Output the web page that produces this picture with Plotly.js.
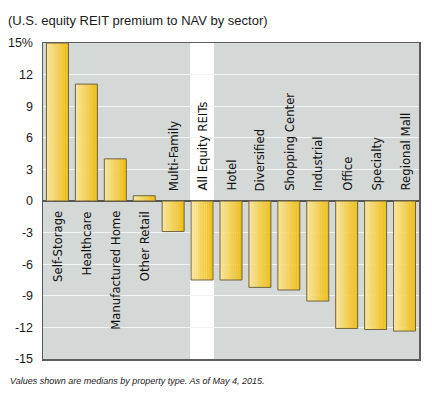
<!DOCTYPE html>
<html>
<head>
<meta charset="utf-8">
<script src="https://cdn.plot.ly/plotly-3.0.1.min.js"></script>
<style>
  html, body { margin: 0; padding: 0; background: #ffffff; }
  #chart { width: 432px; height: 399px; }
</style>
</head>
<body>
<div id="chart"></div>
<script>
// ---- data ----
const categories = ["Self-Storage", "Healthcare", "Manufactured Home", "Other Retail", "Multi-Family",
  "All Equity REITs", "Hotel", "Diversified", "Shopping Center", "Industrial", "Office", "Specialty", "Regional Mall"];
const premiumPct = [15.0, 11.1, 4.0, 0.5, -2.9, -7.5, -7.5, -8.2, -8.45, -9.5, -12.1, -12.2, -12.35];
const highlightCategory = "All Equity REITs";
const yTickVals = [-15, -12, -9, -6, -3, 0, 3, 6, 9, 12, 15];
const yTickText = ["-15", "-12", "-9", "-6", "-3", "0", "3", "6", "9", "12", "15%"];
const titleText = "(U.S. equity REIT premium to NAV by sector)";
const noteText = "Values shown are medians by property type. As of May 4, 2015.";

// ---- styling ----
const BAR_W = 0.76;
const N_SLICES = 10;
const light = [250, 228, 150];
const dark = [239, 191, 22];
function mix(t) {
  const c = light.map((v, i) => Math.round(v + (dark[i] - v) * t));
  return `rgb(${c[0]},${c[1]},${c[2]})`;
}

const traces = [];
for (let i = 0; i < N_SLICES; i++) {
  const t = N_SLICES === 1 ? 0 : i / (N_SLICES - 1);
  traces.push({
    type: "bar",
    x: categories,
    y: premiumPct,
    width: BAR_W / N_SLICES + 0.002,
    offset: -BAR_W / 2 + i * BAR_W / N_SLICES,
    marker: { color: mix(t), line: { width: 0 } },
    hoverinfo: "skip",
    showlegend: false
  });
}
// outline
traces.push({
  type: "bar",
  x: categories,
  y: premiumPct,
  width: BAR_W,
  offset: -BAR_W / 2,
  marker: { color: "rgba(0,0,0,0)", line: { color: "#6f6442", width: 1 } },
  hoverinfo: "skip",
  showlegend: false
});

const labelFont = { family: "Liberation Sans Narrow, Arial Narrow, DejaVu Sans Condensed, sans-serif", size: 13, color: "#111111" };
const annotations = categories.map((c, i) => ({
  x: c, y: 0, xref: "x", yref: "y",
  text: c, showarrow: false, textangle: -90,
  xanchor: "center",
  yanchor: premiumPct[i] >= 0 ? "top" : "bottom",
  yshift: premiumPct[i] >= 0 ? -8 : 8,
  font: labelFont
}));
annotations.push({
  xref: "paper", yref: "paper", x: -0.093, y: -0.07,
  xanchor: "left", yanchor: "middle", showarrow: false,
  text: "<i>" + noteText + "</i>",
  font: { family: "Liberation Sans, Arial, sans-serif", size: 9, color: "#1a1a1a" }
});

const hi = categories.indexOf(highlightCategory);
const layout = {
  width: 432, height: 399,
  margin: { l: 43, r: 13, t: 43, b: 40 },
  paper_bgcolor: "#ffffff",
  plot_bgcolor: "#d4d8d6",
  barmode: "overlay",
  showlegend: false,
  title: {
    text: titleText, xref: "container", yref: "container",
    x: 8 / 432, xanchor: "left", y: 1 - 20 / 399, yanchor: "middle",
    font: { family: "Liberation Sans, Arial, sans-serif", size: 13, color: "#1a1a1a" }
  },
  xaxis: {
    type: "category", range: [-0.5, categories.length - 0.5],
    showticklabels: false, ticks: "", showgrid: false, zeroline: false,
    showline: true, mirror: true, linecolor: "#5c5c5c", linewidth: 1.5, fixedrange: true
  },
  yaxis: {
    range: [-15, 15], tickvals: yTickVals, ticktext: yTickText,
    showgrid: true, gridcolor: "#f2f4f3", gridwidth: 1,
    zeroline: true, zerolinecolor: "#555555", zerolinewidth: 1.5,
    showline: true, mirror: true, linecolor: "#5c5c5c", linewidth: 1.5,
    ticks: "", ticklabelstandoff: 6,
    tickfont: { family: "Liberation Sans, Arial, sans-serif", size: 12.5, color: "#1a1a1a" },
    fixedrange: true
  },
  shapes: [{
    type: "rect", layer: "below", xref: "x", yref: "paper",
    x0: hi - 0.41, x1: hi + 0.41, y0: 0, y1: 1,
    fillcolor: "#ffffff", line: { width: 0 }
  }],
  annotations: annotations
};

Plotly.newPlot("chart", traces, layout, { displayModeBar: false, staticPlot: true });
</script>
</body>
</html>
